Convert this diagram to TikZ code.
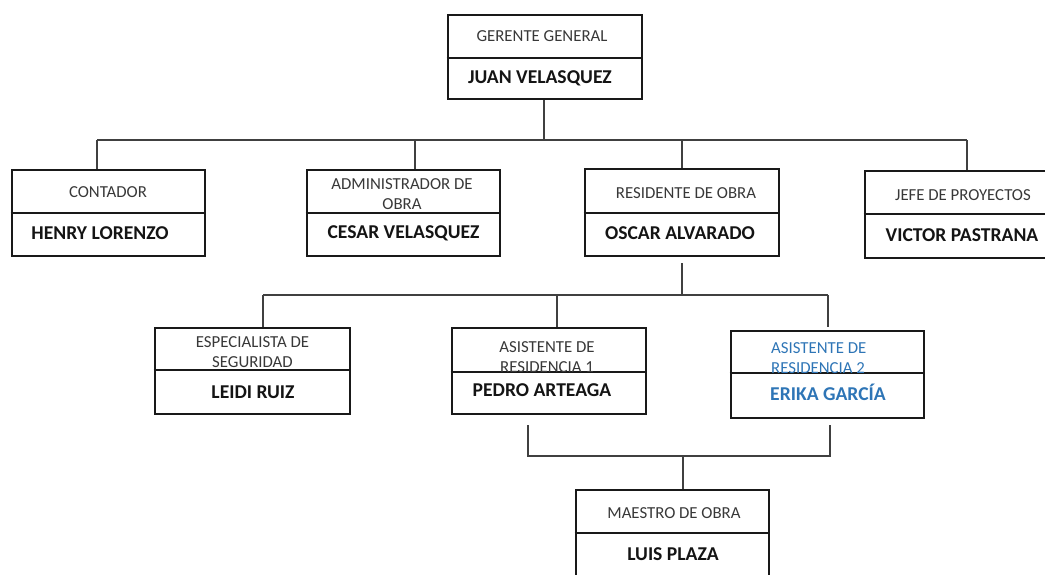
\documentclass[tikz,border=0pt]{standalone}
\usepackage{fontspec}
\setmainfont{Carlito}
\definecolor{wordblue}{HTML}{2E75B6}
\begin{document}
\begin{tikzpicture}[x=1pt,y=-1pt,
  orgbox/.style={draw=black!90,line width=2.7pt,inner sep=0pt,fill=none},
  divline/.style={draw=black!90,line width=2.7pt},
  conn/.style={draw=black!75,line width=1.2pt},
  role/.style={font=\fontsize{16.8}{20.5}\selectfont,text=black!78,align=center,inner sep=0pt},
  person/.style={font=\fontsize{19.6}{23}\selectfont\bfseries,text=black!92,inner sep=0pt}]
\clip (0,0) rectangle (1045,574);

% ---- boxes -----------------------------------------------------------
\node[orgbox,minimum width=194pt,minimum height=84pt] (g)     at (545,57)    {};
\node[orgbox,minimum width=193pt,minimum height=86pt] (cont)  at (108.5,213) {};
\node[orgbox,minimum width=193pt,minimum height=86pt] (adm)   at (403.5,213) {};
\node[orgbox,minimum width=194pt,minimum height=87pt] (res)   at (682,212.5) {};
\node[orgbox,minimum width=196pt,minimum height=87pt] (jefe)  at (963,214.5) {};
\node[orgbox,minimum width=195pt,minimum height=86pt] (esp)   at (252.5,371) {};
\node[orgbox,minimum width=194pt,minimum height=86pt] (as1)   at (549,371)   {};
\node[orgbox,minimum width=193pt,minimum height=87pt] (as2)   at (827.5,374.5) {};
\node[orgbox,minimum width=193pt,minimum height=86pt] (maes)  at (672.5,533) {};

% ---- dividers between role and name ----------------------------------
\draw[divline] (g.west |- 0,58)    -- (g.east |- 0,58);
\draw[divline] (cont.west |- 0,213) -- (cont.east |- 0,213);
\draw[divline] (adm.west |- 0,213)  -- (adm.east |- 0,213);
\draw[divline] (res.west |- 0,213)  -- (res.east |- 0,213);
\draw[divline] (jefe.west |- 0,214) -- (jefe.east |- 0,214);
\draw[divline] (esp.west |- 0,370)  -- (esp.east |- 0,370);
\draw[divline] (as1.west |- 0,372)  -- (as1.east |- 0,372);
\draw[divline] (as2.west |- 0,373)  -- (as2.east |- 0,373);
\draw[divline] (maes.west |- 0,533) -- (maes.east |- 0,533);

% ---- texts -------------------------------------------------------------
\node[role]   (gr)  at (542,36)  {GERENTE GENERAL};
\node[person] (gp)  at (540,78)  {JUAN VELASQUEZ};
\node[role]   (cr)  at (108,192) {CONTADOR};
\node[person] (cp)  at (100,233) {HENRY LORENZO};
\node[role]   (ar)  at (402,194) {ADMINISTRADOR DE\\OBRA};
\node[person] (ap)  at (403.5,233) {CESAR VELASQUEZ};
\node[role]   (rr)  at (686,193) {RESIDENTE DE OBRA};
\node[person] (rp)  at (680,233) {OSCAR ALVARADO};
\node[role]   (jr)  at (963,195) {JEFE DE PROYECTOS};
\node[person] (jp)  at (962,235) {VICTOR PASTRANA};
\node[role]   (er)  at (252.5,352) {ESPECIALISTA DE\\SEGURIDAD};
\node[person] (ep)  at (253,392) {LEIDI RUIZ};
\node[role]   (a1r) at (547,357) {ASISTENTE DE\\RESIDENCIA 1};
\node[person] (a1p) at (542,390) {PEDRO ARTEAGA};
\node[role,align=left,text=wordblue,anchor=west] (a2r) at (771,358) {ASISTENTE DE\\RESIDENCIA 2};
\node[person,text=wordblue] (a2p) at (828,392) {ERIKA GARCÍA};
\node[role]   (mr)  at (674,513) {MAESTRO DE OBRA};
\node[person] (mp)  at (673,554) {LUIS PLAZA};

% ---- connectors --------------------------------------------------------
% first level bus
\coordinate (ta) at (544,140);
\coordinate (t1) at (97,140);
\coordinate (t2) at (415,140);
\coordinate (t3) at (682,140);
\coordinate (t4) at (967,140);
\draw[conn] (g.south -| ta) -- (ta);
\draw[conn] (t1) -- (t4);
\draw[conn] (t1) -- (t1 |- cont.north);
\draw[conn] (t2) -- (t2 |- adm.north);
\draw[conn] (t3) -- (t3 |- res.north);
\draw[conn] (t4) -- (t4 |- jefe.north);

% second level bus
\coordinate (rs) at (682,263);
\coordinate (tb) at (682,295);
\coordinate (s1) at (263,295);
\coordinate (s2) at (557,295);
\coordinate (s3) at (828,295);
\draw[conn] (rs) -- (tb);
\draw[conn] (s1) -- (s3);
\draw[conn] (s1) -- (s1 |- esp.north);
\draw[conn] (s2) -- (s2 |- as1.north);
\draw[conn] (s3) -- (828,327);

% bracket joining both assistants to the foreman
\coordinate (b1) at (528,425);
\coordinate (b2) at (830,425);
\coordinate (bm) at (683,456);
\draw[conn] (b1) -- (b1 |- bm) -- (b2 |- bm) -- (b2);
\draw[conn] (bm) -- (bm |- maes.north);
\end{tikzpicture}
\end{document}
